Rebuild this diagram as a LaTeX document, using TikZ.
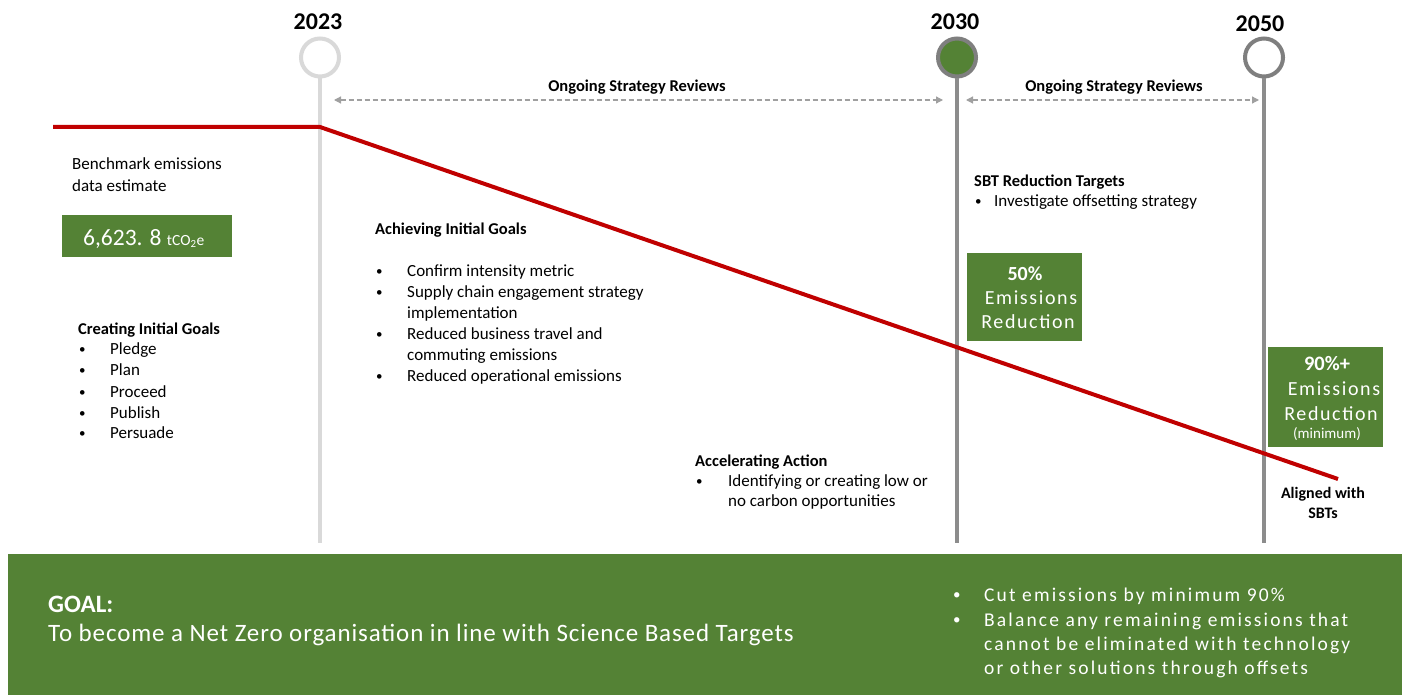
\documentclass[tikz,border=0pt]{standalone}
\usepackage{fontspec}
\setmainfont{Carlito}
\newfontfamily\spaced[LetterSpace=8]{Carlito}
\newfontfamily\spacedb[LetterSpace=11]{Carlito}
\newfontfamily\spacedc[LetterSpace=3.5]{Carlito}
\usetikzlibrary{arrows.meta}
\definecolor{gr}{HTML}{548235}
\definecolor{rd}{HTML}{C00000}
\definecolor{lg}{HTML}{D9D9D9}
\definecolor{mg}{HTML}{8C8C8C}
\definecolor{dg}{HTML}{7F7F7F}
\definecolor{ag}{HTML}{A0A0A0}
\newcommand\smallbul{\fontsize{13}{13}\selectfont\raisebox{0.5pt}{•}}
\newcommand\barbul{\fontsize{15}{15}\selectfont\raisebox{1.2pt}{•}}
\tikzset{
  txt/.style={inner sep=0pt, anchor=base west, font=\fontsize{17}{20}\selectfont},
  hd/.style={inner sep=0pt, anchor=base west, font=\fontsize{16.5}{20}\selectfont\bfseries},
  yr/.style={inner sep=0pt, anchor=base, font=\fontsize{24}{24}\selectfont\bfseries},
  ms/.style={circle, line width=4pt, minimum size=38pt, inner sep=0pt},
  vline/.style={line width=4pt},
  rev/.style={draw=ag, line width=1.2pt, dash pattern=on 5pt off 3pt, {Triangle[length=7pt,width=7pt]}-{Triangle[length=7pt,width=7pt]}},
  gbox/.style={fill=gr, inner sep=0pt},
  wt/.style={inner sep=0pt, anchor=base, text=white},
  bw/.style={inner sep=0pt, anchor=base west, text=white},
}
\begin{document}
\begin{tikzpicture}[x=1pt,y=-1pt]
\useasboundingbox (0,0) rectangle (1407,695);
\fill[white] (0,0) rectangle (1407,695);

% milestones
\node[ms, draw=lg, fill=white] (c23) at (320,57.5) {};
\node[ms, draw=dg, fill=gr] (c30) at (957,57.5) {};
\node[ms, draw=dg, fill=white] (c50) at (1264,57.5) {};
\coordinate (b23) at (320,543);
\coordinate (b30) at (957,543);
\coordinate (b50) at (1264,543);
\draw[vline, draw=lg] (c23.south) -- (b23);
\draw[vline, draw=mg] (c30.south) -- (b30);
\draw[vline, draw=mg] (c50.south) -- (b50);
\node[yr] (y23) at (318,30) {2023};
\node[yr] (y30) at (955,30) {2030};
\node[yr] (y50) at (1260,32) {2050};

% reviews
\coordinate (r1a) at (334,100);
\coordinate (r1b) at (943,100);
\coordinate (r2a) at (966,100);
\coordinate (r2b) at (1259,100);
\draw[rev] (r1a) -- (r1b);
\draw[rev] (r2a) -- (r2b);
\node[hd, anchor=base] (rv1) at (637,92) {Ongoing Strategy Reviews};
\node[hd, anchor=base] (rv2) at (1114,92) {Ongoing Strategy Reviews};

% emissions line
\coordinate (e0) at (53,127);
\coordinate (e1) at (320,127);
\coordinate (e2) at (1338,479);
\draw[rd, line width=4pt] (e0) -- (e1) -- (e2);

% benchmark
\node[txt] (bm1) at (72,170) {Benchmark emissions};
\node[txt] (bm2) at (72,191) {data estimate};
\node[gbox, minimum width=170pt, minimum height=42pt] (bmb) at (147,236) {};
\node[bw] (bmv) at (83,245) {\fontsize{23.5}{24}\selectfont 6,623. 8 {\fontsize{15.5}{15}\selectfont tCO\textsubscript{2}e}};

% creating initial goals
\node[hd] (cg) at (78,334) {Creating Initial Goals};
\node[txt] (cgb1) at (79,354) {\smallbul};
\node[txt] (cg1) at (110,354) {Pledge};
\node[txt] (cgb2) at (79,375) {\smallbul};
\node[txt] (cg2) at (110,375) {Plan};
\node[txt] (cgb3) at (79,397) {\smallbul};
\node[txt] (cg3) at (110,397) {Proceed};
\node[txt] (cgb4) at (79,418) {\smallbul};
\node[txt] (cg4) at (110,418) {Publish};
\node[txt] (cgb5) at (79,438) {\smallbul};
\node[txt] (cg5) at (110,438) {Persuade};

% achieving initial goals
\node[hd] (ag) at (375,234) {Achieving Initial Goals};
\node[txt] (agb1) at (376,276) {\smallbul};
\node[txt] (ag1) at (407,276) {Confirm intensity metric};
\node[txt] (agb2) at (376,297) {\smallbul};
\node[txt] (ag2) at (407,297) {Supply chain engagement strategy};
\node[txt] (ag2b) at (407,318) {implementation};
\node[txt] (agb3) at (376,339) {\smallbul};
\node[txt] (ag3) at (407,339) {Reduced business travel and};
\node[txt] (ag3b) at (407,360) {commuting emissions};
\node[txt] (agb4) at (376,381) {\smallbul};
\node[txt] (ag4) at (407,381) {Reduced operational emissions};

% accelerating action
\node[hd] (aa) at (695,466) {Accelerating Action};
\node[txt] (aab1) at (696,486) {\smallbul};
\node[txt] (aa1) at (728,486) {Identifying or creating low or};
\node[txt] (aa1b) at (728,506) {no carbon opportunities};

% SBT
\node[hd] (sb) at (974,186) {SBT Reduction Targets};
\node[txt] (sbb1) at (975,206) {\smallbul};
\node[txt] (sb1) at (994,206) {Investigate offsetting strategy};

% 50% box
\node[gbox, minimum width=115pt, minimum height=88pt] (p50) at (1024.5,297) {};
\node[wt, font=\fontsize{20}{20}\selectfont\bfseries] (p50a) at (1025,280) {50\%};
\node[wt, font=\fontsize{20}{20}\spaced] (p50b) at (1031,304) {Emissions};
\node[wt, font=\fontsize{20}{20}\spaced] (p50c) at (1028,328) {Reduction};

% 90% box
\node[gbox, minimum width=115pt, minimum height=100pt] (p90) at (1325.5,397) {};
\node[wt, font=\fontsize{20.5}{20}\selectfont\bfseries] (p90a) at (1327,370) {90\%+};
\node[wt, font=\fontsize{20}{20}\spaced] (p90b) at (1334,395) {Emissions};
\node[wt, font=\fontsize{20}{20}\spaced] (p90c) at (1331,420) {Reduction};
\node[wt, font=\fontsize{15}{15}\selectfont] (p90d) at (1327,438) {(minimum)};

\node[hd, anchor=base, font=\fontsize{16}{16}\selectfont\bfseries] (al1) at (1323,498) {Aligned with};
\node[hd, anchor=base, font=\fontsize{16}{16}\selectfont\bfseries] (al2) at (1323,518) {SBTs};

% goal bar
\node[gbox, minimum width=1394pt, minimum height=141pt] (bar) at (705,624.5) {};
\node[bw, font=\fontsize{25}{25}\selectfont\bfseries] (goal) at (48,612) {GOAL:};
\node[bw, font=\fontsize{25}{25}\spacedc] (goalt) at (48,641) {To become a Net Zero organisation in line with Science Based Targets};
\node[bw] (gb1) at (953,601) {\barbul};
\node[bw, font=\fontsize{19.5}{20}\spacedb] (g1) at (984,601) {Cut emissions by minimum 90\%};
\node[bw] (gb2) at (953,626) {\barbul};
\node[bw, font=\fontsize{19.5}{20}\spacedb] (g2) at (984,626) {Balance any remaining emissions that};
\node[bw, font=\fontsize{19.5}{20}\spacedb] (g2b) at (984,650) {cannot be eliminated with technology};
\node[bw, font=\fontsize{19.5}{20}\spacedb] (g2c) at (984,674) {or other solutions through offsets};
\end{tikzpicture}
\end{document}
